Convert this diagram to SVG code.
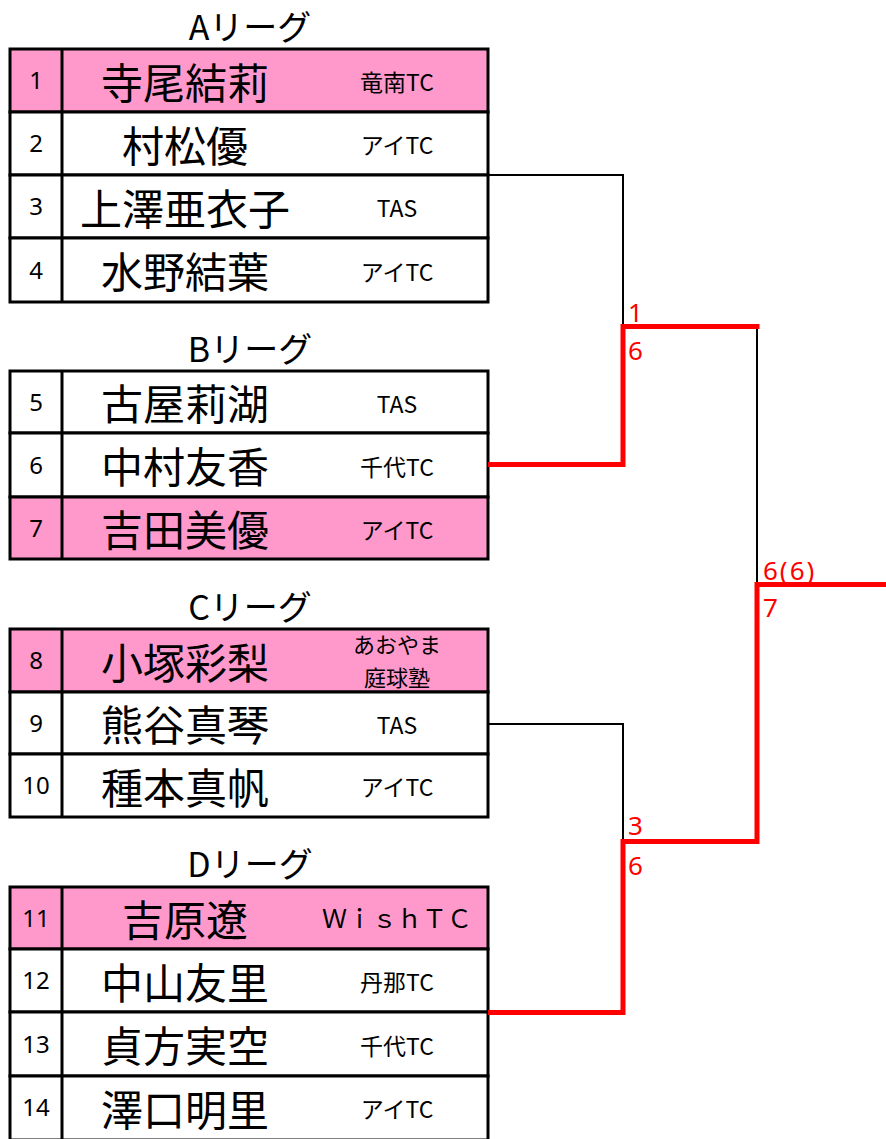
<svg xmlns="http://www.w3.org/2000/svg" width="886" height="1139" viewBox="0 0 886 1139">
<style>
.row{stroke:#000;stroke-width:3;fill:#fff}
.win{fill:#FF99CC}
.div{stroke:#000;stroke-width:3}
.num{font-family:"Noto Sans","Noto Sans CJK JP",sans-serif;font-size:24px;text-anchor:middle;fill:#000}
.name{font-family:"Noto Sans CJK JP",sans-serif;font-size:42px;text-anchor:middle;fill:#000}
.club{font-family:"Noto Sans CJK JP",sans-serif;font-size:23px;text-anchor:middle;fill:#000}
.title{font-family:"Noto Sans CJK JP",sans-serif;font-size:34px;text-anchor:middle;fill:#000}
.blk{fill:none;stroke:#000;stroke-width:2}
.red{fill:none;stroke:#FF0000;stroke-width:5}
.score{font-family:"Noto Sans","Noto Sans CJK JP",sans-serif;font-size:26px;fill:#FF0000}
</style>
<rect width="886" height="1139" fill="#fff"/>

<g id="titles">
<text class="title" x="250" y="39.5">Aリーグ</text>
<text class="title" x="250" y="361.5">Bリーグ</text>
<text class="title" x="250" y="620">Cリーグ</text>
<text class="title" x="250" y="876.5">Dリーグ</text>
</g>

<g id="p1"><rect class="row win" x="10" y="49" width="478" height="63"/><line class="div" x1="62" y1="49" x2="62" y2="112"/><text class="num" x="36" y="89">1</text><text class="name" x="185" y="98.5">寺尾結莉</text><text class="club" x="397" y="91">竜南TC</text></g>
<g id="p2"><rect class="row" x="10" y="112" width="478" height="63"/><line class="div" x1="62" y1="112" x2="62" y2="175"/><text class="num" x="36" y="152">2</text><text class="name" x="185" y="161.5">村松優</text><text class="club" x="397" y="154">アイTC</text></g>
<g id="p3"><rect class="row" x="10" y="175" width="478" height="63"/><line class="div" x1="62" y1="175" x2="62" y2="238"/><text class="num" x="36" y="215">3</text><text class="name" x="185" y="224.5">上澤亜衣子</text><text class="club" x="397" y="217">TAS</text></g>
<g id="p4"><rect class="row" x="10" y="238" width="478" height="64"/><line class="div" x1="62" y1="238" x2="62" y2="302"/><text class="num" x="36" y="278.5">4</text><text class="name" x="185" y="288">水野結葉</text><text class="club" x="397" y="280.5">アイTC</text></g>

<g id="p5"><rect class="row" x="10" y="371" width="478" height="62"/><line class="div" x1="62" y1="371" x2="62" y2="433"/><text class="num" x="36" y="410.5">5</text><text class="name" x="185" y="420">古屋莉湖</text><text class="club" x="397" y="412.5">TAS</text></g>
<g id="p6"><rect class="row" x="10" y="433" width="478" height="64"/><line class="div" x1="62" y1="433" x2="62" y2="497"/><text class="num" x="36" y="473.5">6</text><text class="name" x="185" y="483">中村友香</text><text class="club" x="397" y="475.5">千代TC</text></g>
<g id="p7"><rect class="row win" x="10" y="497" width="478" height="62"/><line class="div" x1="62" y1="497" x2="62" y2="559"/><text class="num" x="36" y="536.5">7</text><text class="name" x="185" y="546">吉田美優</text><text class="club" x="397" y="538.5">アイTC</text></g>

<g id="p8"><rect class="row win" x="10" y="629" width="478" height="63"/><line class="div" x1="62" y1="629" x2="62" y2="692"/><text class="num" x="36" y="669">8</text><text class="name" x="185" y="678.5">小塚彩梨</text><text class="club" x="397" y="653" style="font-size:22px">あおやま</text><text class="club" x="397" y="685.5" style="font-size:22px">庭球塾</text></g>
<g id="p9"><rect class="row" x="10" y="692" width="478" height="62"/><line class="div" x1="62" y1="692" x2="62" y2="754"/><text class="num" x="36" y="731.5">9</text><text class="name" x="185" y="741">熊谷真琴</text><text class="club" x="397" y="733.5">TAS</text></g>
<g id="p10"><rect class="row" x="10" y="754" width="478" height="63"/><line class="div" x1="62" y1="754" x2="62" y2="817"/><text class="num" x="36" y="794">10</text><text class="name" x="185" y="803.5">種本真帆</text><text class="club" x="397" y="796">アイTC</text></g>

<g id="p11"><rect class="row win" x="10" y="887" width="478" height="62"/><line class="div" x1="62" y1="887" x2="62" y2="949"/><text class="num" x="36" y="926.5">11</text><text class="name" x="185" y="936">吉原遼</text><text class="club" x="397" y="928" style="font-size:25px">ＷｉｓｈＴＣ</text></g>
<g id="p12"><rect class="row" x="10" y="949" width="478" height="63"/><line class="div" x1="62" y1="949" x2="62" y2="1012"/><text class="num" x="36" y="989">12</text><text class="name" x="185" y="998.5">中山友里</text><text class="club" x="397" y="991">丹那TC</text></g>
<g id="p13"><rect class="row" x="10" y="1012" width="478" height="64"/><line class="div" x1="62" y1="1012" x2="62" y2="1076"/><text class="num" x="36" y="1052.5">13</text><text class="name" x="185" y="1062">貞方実空</text><text class="club" x="397" y="1054.5">千代TC</text></g>
<g id="p14"><rect class="row" x="10" y="1076" width="478" height="64"/><line class="div" x1="62" y1="1076" x2="62" y2="1140"/><text class="num" x="36" y="1116">14</text><text class="name" x="185" y="1125.5">澤口明里</text><text class="club" x="397" y="1118">アイTC</text></g>

<g id="connectors">
<path class="blk" d="M488,175 H623 V326"/>
<path class="blk" d="M757,326 V584.5"/>
<path class="blk" d="M488,724 H623 V842"/>
<path class="red" d="M488,464.5 H623 V326.5 H759.5"/>
<path class="red" d="M886,584.5 H757 V841.5 H623 V1012.5 H488"/>
</g>

<g id="scores">
<text class="score" x="628" y="322">1</text>
<text class="score" x="628" y="360">6</text>
<text class="score" x="763" y="580" letter-spacing="2">6(6)</text>
<text class="score" x="763" y="617">7</text>
<text class="score" x="628" y="835">3</text>
<text class="score" x="628" y="875">6</text>
</g>
</svg>
